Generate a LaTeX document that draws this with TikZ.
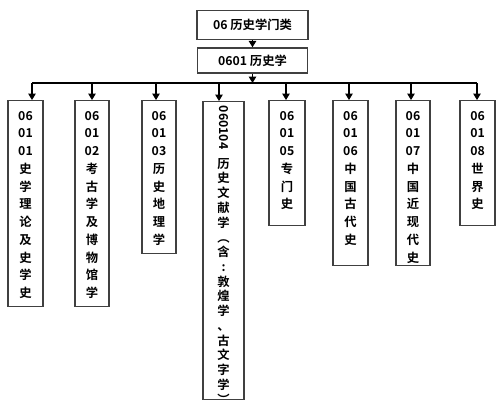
\documentclass[tikz,border=0pt]{standalone}
\usepackage{fontspec}
\newfontfamily\cjk{Noto Sans CJK SC}[BoldFont={Noto Sans CJK SC Bold}]
\usetikzlibrary{arrows.meta}

% column of stacked characters: height, width, top gap, text
\newcommand{\colbox}[4]{\parbox[t][#1][t]{#2}{\centering\vspace*{#3}#4}}
\newcommand{\vglyph}[1]{\rotatebox[origin=c]{-90}{#1}}

\tikzset{
    catbox/.style={draw=black!75, line width=0.8pt, rectangle,
                   font=\cjk\bfseries\fontsize{7}{10.1}\selectfont},
    subbox/.style={catbox, anchor=north, inner sep=0pt},
    tip/.style={line width=0.6pt, -{Triangle[length=3.6pt, width=4.2pt]}},
}

\begin{document}
\begin{tikzpicture}[x=0.02cm, y=-0.02cm]
    \useasboundingbox (0,0) rectangle (500,414);

    \node[catbox, minimum width=2.22cm, minimum height=0.58cm]
        (Men) at (252.5,25) {06 历史学门类};
    \node[catbox, minimum width=2.2cm, minimum height=0.5cm]
        (Hist) at (252.5,60.5) {0601\ 历史学};

    \coordinate (bus) at (252.5,83);
    \foreach \n/\x in {1/32,2/92,3/156,4/219,5/286,6/349,7/411,8/477}
        \coordinate (bus\n) at (\x,83);

    \node[subbox] (S1) at (25.5,100)
        {\colbox{4.12cm}{0.7cm}{5.9pt}{06\\01\\01\\史\\学\\理\\论\\及\\史\\学\\史}};
    \node[subbox] (S2) at (92,100)
        {\colbox{4.12cm}{0.68cm}{5.9pt}{06\\01\\02\\考\\古\\学\\及\\博\\物\\馆\\学}};
    \node[subbox] (S3) at (159,100)
        {\colbox{3.06cm}{0.68cm}{5.9pt}{06\\01\\03\\历\\史\\地\\理\\学}};
    \node[subbox] (S4) at (223.5,101)
        {\colbox{5.96cm}{0.82cm}{2.3pt}{\fontsize{7}{8.4}\selectfont
         \rotatebox{-90}{060104}\\[4pt]历\\史\\文\\献\\学\\
         \vglyph{（}\\含\\:\\敦\\煌\\学\\、\\古\\文\\字\\学\\\vglyph{）}}};
    \node[subbox] (S5) at (287,100)
        {\colbox{2.5cm}{0.72cm}{5.9pt}{06\\01\\05\\专\\门\\史}};
    \node[subbox] (S6) at (350.5,100)
        {\colbox{3.3cm}{0.7cm}{5.9pt}{06\\01\\06\\中\\国\\古\\代\\史}};
    \node[subbox] (S7) at (413,100)
        {\colbox{3.3cm}{0.68cm}{5.9pt}{06\\01\\07\\中\\国\\近\\现\\代\\史}};
    \node[subbox] (S8) at (477.5,100)
        {\colbox{2.5cm}{0.7cm}{5.9pt}{06\\01\\08\\世\\界\\史}};

    \draw[tip] (Men) -- (Hist);
    \draw[tip] (Hist.south) -- (bus);
    \draw[line width=0.6pt] (bus1) -- (bus8);
    \foreach \n in {1,...,8}
        \draw[tip] (bus\n) -- (bus\n |- S\n.north);
\end{tikzpicture}
\end{document}
